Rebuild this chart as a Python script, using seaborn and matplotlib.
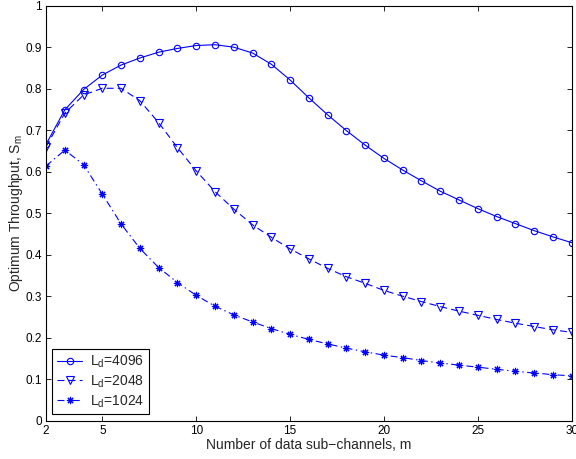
import numpy as np
import pandas as pd
import matplotlib
matplotlib.use("Agg")
import matplotlib.pyplot as plt
from matplotlib.ticker import FuncFormatter
import seaborn as sns

# Number of data sub-channels
m = list(range(2, 31))

# Optimum throughput S_m for each data length L_d
s_4096 = [0.666, 0.749, 0.798, 0.833, 0.857, 0.874, 0.888, 0.897, 0.904, 0.906,
          0.900, 0.886, 0.859, 0.821, 0.778, 0.737, 0.699, 0.664, 0.632, 0.604,
          0.578, 0.553, 0.532, 0.511, 0.492, 0.475, 0.458, 0.443, 0.429]
s_2048 = [0.660, 0.741, 0.785, 0.801, 0.801, 0.771, 0.718, 0.658, 0.602, 0.552,
          0.510, 0.472, 0.442, 0.414, 0.390, 0.367, 0.347, 0.331, 0.314, 0.300,
          0.287, 0.275, 0.264, 0.254, 0.244, 0.235, 0.227, 0.219, 0.213]
s_1024 = [0.614, 0.652, 0.617, 0.546, 0.474, 0.415, 0.369, 0.333, 0.302, 0.276,
          0.255, 0.238, 0.222, 0.208, 0.196, 0.185, 0.175, 0.166, 0.158, 0.152,
          0.145, 0.139, 0.134, 0.129, 0.124, 0.119, 0.115, 0.111, 0.108]

labels = [r"L$_{\rm d}$=4096", r"L$_{\rm d}$=2048", r"L$_{\rm d}$=1024"]
x_ticks = [2, 5, 10, 15, 20, 25, 30]
y_ticks = [0.0, 0.1, 0.2, 0.3, 0.4, 0.5, 0.6, 0.7, 0.8, 0.9, 1.0]

sns.set_theme(style="ticks")
plt.rcParams.update({
    "font.family": ["Liberation Sans", "DejaVu Sans"],
    "mathtext.fontset": "custom",
    "mathtext.rm": "Liberation Sans",
    "mathtext.it": "Liberation Sans:italic",
    "mathtext.bf": "Liberation Sans:bold",
    "lines.scale_dashes": False,
    "axes.linewidth": 0.8,
    "xtick.direction": "in",
    "ytick.direction": "in",
    "xtick.top": True,
    "ytick.right": True,
    "xtick.major.size": 3.5,
    "ytick.major.size": 3.5,
    "xtick.major.width": 0.6,
    "ytick.major.width": 0.6,
    "xtick.color": "black",
    "ytick.color": "black",
    "axes.edgecolor": "black",
})

df = pd.DataFrame({
    "m": m * 3,
    "S": s_4096 + s_2048 + s_1024,
    "series": [labels[0]] * len(m) + [labels[1]] * len(m) + [labels[2]] * len(m),
})

fig = plt.figure(figsize=(5.76, 4.59), dpi=100)
ax = fig.add_axes([0.0799, 0.0834, 0.9126, 0.9042])

# asterisk marker: four crossing strokes
asterisk = (8, 2, 0)
styles = [
    dict(marker="o", linestyle="-", markersize=4.6),
    dict(marker="v", linestyle=(0, (5, 3)), markersize=5.4),
    dict(marker=asterisk, linestyle=(0, (5, 2.5, 1, 2.5)), markersize=5.2),
]
for lab, st in zip(labels, styles):
    sub = df[df["series"] == lab]
    sns.lineplot(data=sub, x="m", y="S", ax=ax, color="#0000ff", linewidth=0.8,
                 markerfacecolor="none", markeredgecolor="#0000ff",
                 markeredgewidth=0.8, label=lab, **st)

ax.set_xlim(2, 30)
ax.set_ylim(0, 1)
ax.set_xticks(x_ticks)
ax.set_yticks(y_ticks)
fmt = FuncFormatter(lambda v, p: f"{v:g}")
ax.xaxis.set_major_formatter(fmt)
ax.yaxis.set_major_formatter(fmt)
ax.tick_params(labelsize=8.5, pad=3)
ax.set_xlabel("Number of data sub\u2212channels, m", fontsize=10, labelpad=1)
ax.set_ylabel(r"Optimum Throughput, S$_{\rm m}$", fontsize=10)
ax.yaxis.set_label_coords(-0.040, 0.5)

leg = ax.legend(loc="lower left", fontsize=10, frameon=True, fancybox=False,
                framealpha=1, edgecolor="black", handlelength=1.8,
                handletextpad=0.55, labelspacing=0.25, borderpad=0.35,
                borderaxespad=0.45)
leg.get_frame().set_linewidth(0.8)

fig.savefig("out.png", dpi=100)
